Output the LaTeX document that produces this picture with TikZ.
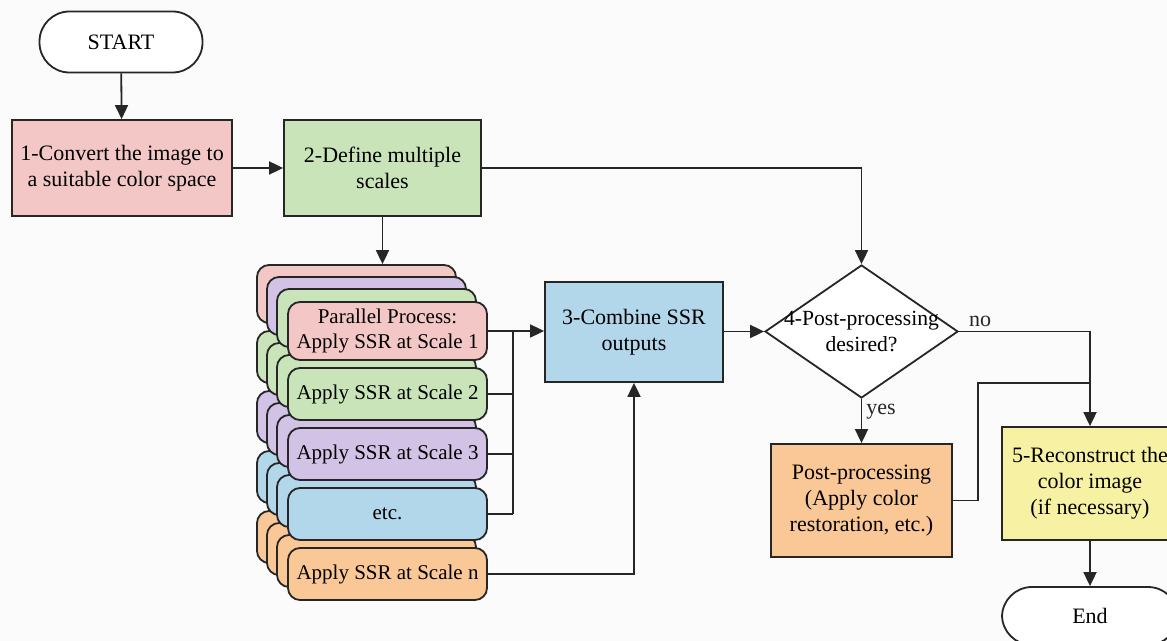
\documentclass[tikz,border=0pt]{standalone}
\usepackage{fontspec}
\setmainfont{Liberation Serif}
\usetikzlibrary{shapes.geometric,arrows.meta,positioning,calc}
\definecolor{edgegray}{RGB}{38,38,38}
\definecolor{pagebg}{RGB}{251,251,251}
\definecolor{pinkbox}{RGB}{244,199,199}
\definecolor{greenbox}{RGB}{200,228,184}
\definecolor{bluebox}{RGB}{178,214,234}
\definecolor{purplebox}{RGB}{210,194,230}
\definecolor{orangebox}{RGB}{250,200,150}
\definecolor{yellowbox}{RGB}{247,241,164}

\begin{document}
\begin{tikzpicture}[
    x=0.5pt, y=-0.5pt,
    procbox/.style={rectangle, draw=edgegray, line width=0.9pt, align=center,
                 inner sep=2pt, font=\rmfamily\fontsize{11}{13}\selectfont},
    scalebox/.style={procbox, rounded corners=6pt, minimum width=99.5pt,
                 minimum height=26pt, font=\rmfamily\fontsize{10.5}{12.5}\selectfont},
    term/.style={procbox, rounded corners=15pt, fill=white},
    decision/.style={diamond, draw=edgegray, line width=0.9pt, fill=white, aspect=1.45,
                 inner sep=-4pt, minimum width=96.5pt, minimum height=66.5pt,
                 align=center, font=\rmfamily\fontsize{10.8}{13}\selectfont},
    arr/.style={-{Triangle[length=7pt,width=6.5pt]}, line width=0.9pt, edgegray},
    wire/.style={line width=0.9pt, edgegray},
    tag/.style={font=\rmfamily\fontsize{11}{13}\selectfont, inner sep=2pt}
]
\fill[pagebg] (0,0) rectangle (1167,641);
\useasboundingbox (0,0) rectangle (1167,641);

\node[term, minimum width=81.5pt, minimum height=30.5pt] (start) at (121,42) {START};
\node[procbox, fill=pinkbox, minimum width=110pt, minimum height=48pt] (b1) at (122,168)
    {1-Convert the image to\\a suitable color space};
\node[procbox, fill=greenbox, minimum width=98.5pt, minimum height=48pt] (b2) at (382.5,168)
    {2-Define multiple\\scales};

% stacked copies behind the parallel steps
\foreach \r/\yc/\col in {5/574/orangebox,4/514/bluebox,3/454/purplebox,2/394/greenbox}
  \foreach \k/\dx/\dy in {3/-31/-37,2/-21/-25,1/-11/-13}
    \node[scalebox, fill=\col] (s\r c\k) at (387.5+\dx,\yc+\dy) {};
\node[scalebox, fill=pinkbox, minimum height=29pt] (s1c3) at (356.5,294) {};
\node[scalebox, fill=purplebox, minimum height=29pt] (s1c2) at (366.5,306) {};
\node[scalebox, fill=greenbox, minimum height=29pt] (s1c1) at (376.5,318) {};

\node[scalebox, fill=pinkbox, minimum height=29pt] (s1) at (387.5,331)
    {Parallel Process:\\Apply SSR at Scale 1};
\node[scalebox, fill=greenbox] (s2) at (387.5,394) {Apply SSR at Scale 2};
\node[scalebox, fill=purplebox] (s3) at (387.5,454) {Apply SSR at Scale 3};
\node[scalebox, fill=bluebox] (s4) at (387.5,514) {etc.};
\node[scalebox, fill=orangebox] (s5) at (387.5,574) {Apply SSR at Scale n};

\node[procbox, fill=bluebox, minimum width=89pt, minimum height=50pt] (b3) at (634,332)
    {3-Combine SSR\\outputs};
\node[decision] (d4) at (861.5,331.5) {4-Post-processing\\desired?};
\node[procbox, fill=orangebox, minimum width=90.5pt, minimum height=56.5pt] (pp) at (861.5,500.5)
    {Post-processing\\(Apply color\\restoration, etc.)};
\node[procbox, fill=yellowbox, minimum width=88pt, minimum height=56.5pt] (b5) at (1090,483.5)
    {5-Reconstruct the\\color image\\(if necessary)};
\node[term, minimum width=88pt, minimum height=29pt] (stop) at (1090,616) {End};

\coordinate (bus) at (513,331);
\coordinate (merge) at (1090,383);

\draw[arr] (start) -- (b1);
\draw[arr] (b1) -- (b2);
\draw[arr] (b2.south) -- (b2.south |- s1c3.north);
\draw[arr] (b2.east) -| (d4.north);
\draw[wire] (s1.east) -- (bus);
\foreach \r in {2,3,4}
  \draw[wire] (s\r.east) -- (s\r.east -| bus);
\draw[wire] (bus) -- (s4.east -| bus);
\draw[arr] (bus) -- (bus -| b3.west);
\draw[arr] (s5.east) -| (b3.south);
\draw[arr] (b3.east |- d4.west) -- (d4.west);
\draw[arr] (d4.east) -| (b5.north) node[pos=0.02, above right, tag] {no};
\draw[arr] (d4.south) -- (pp.north) node[pos=0.3, right, tag] {yes};
\draw[wire] (pp.east) -- ++(12.5pt,0) |- (merge);
\draw[arr] (b5) -- (stop);
\end{tikzpicture}
\end{document}
